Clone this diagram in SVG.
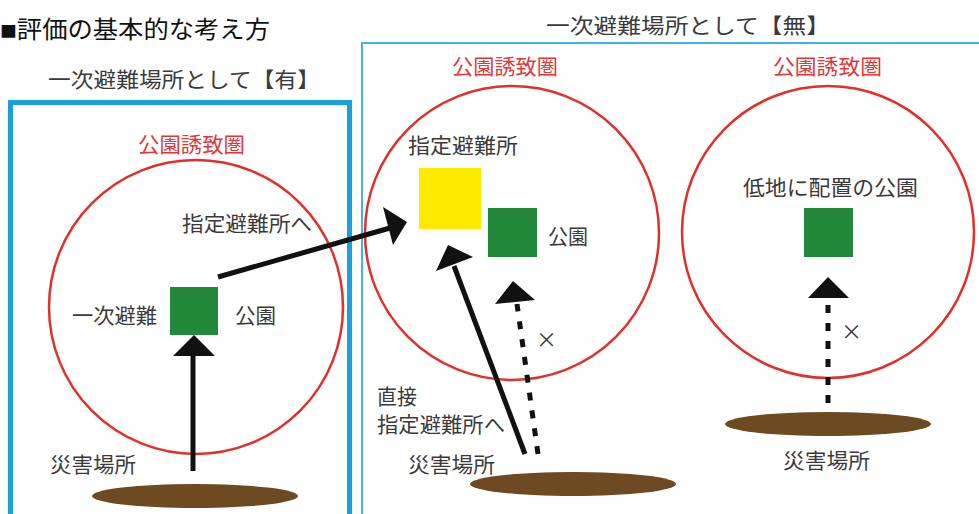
<svg xmlns="http://www.w3.org/2000/svg" width="979" height="514" viewBox="0 0 979 514">
<style>
text{font-family:"Noto Sans CJK JP","Noto Sans",sans-serif;fill:#3a3a3a;font-size:21px}
.title{fill:#111;font-size:24px}
.red{fill:#e0383a}
.zone{fill:none;stroke:#e0302c;stroke-width:2.5}
.park{fill:#23893a}
.ground{fill:#6e4a22}
.solid{stroke:#111;stroke-width:5;fill:none}
.dash{stroke:#111;stroke-width:5;fill:none;stroke-dasharray:8 10}
.head{fill:#111}
</style>
<rect width="979" height="514" fill="#fff"/>
<g id="title">
  <text class="title" x="0" y="38" textLength="270" lengthAdjust="spacingAndGlyphs"><tspan font-size="16" dy="-1">■</tspan><tspan dy="1">評価の基本的な考え方</tspan></text>
</g>

<g id="panel-yes">
  <rect x="10.5" y="102.5" width="339" height="420" fill="none" stroke="#1aa0dc" stroke-width="5"/>
  <text x="48" y="87" textLength="272" lengthAdjust="spacingAndGlyphs">一次避難場所として【有】</text>
</g>
<g id="panel-no">
  <rect x="362" y="43" width="630" height="490" fill="none" stroke="#40b4e6" stroke-width="2"/>
  <text x="546" y="33" textLength="284" lengthAdjust="spacingAndGlyphs">一次避難場所として【無】</text>
</g>

<g id="zone-left">
  <circle class="zone" cx="196" cy="307" r="147"/>
  <text class="red" x="138" y="152" textLength="107" lengthAdjust="spacingAndGlyphs">公園誘致圏</text>
</g>
<g id="park-left">
  <rect class="park" x="170" y="287" width="48" height="48"/>
  <text x="72" y="323" textLength="85" lengthAdjust="spacingAndGlyphs">一次避難</text>
  <text x="235" y="323" textLength="41" lengthAdjust="spacingAndGlyphs">公園</text>
</g>
<text x="182" y="231" textLength="130" lengthAdjust="spacingAndGlyphs">指定避難所へ</text>
<g id="disaster-left">
  <ellipse class="ground" cx="195" cy="496" rx="103" ry="12"/>
  <text x="50" y="472" textLength="86" lengthAdjust="spacingAndGlyphs">災害場所</text>
</g>

<g id="zone-mid">
  <circle class="zone" cx="512" cy="233" r="147"/>
  <text class="red" x="452" y="74" textLength="106" lengthAdjust="spacingAndGlyphs">公園誘致圏</text>
</g>
<g id="shelter-mid">
  <rect x="419" y="168" width="62" height="61" fill="#ffe900"/>
  <text x="408" y="153" textLength="110" lengthAdjust="spacingAndGlyphs">指定避難所</text>
</g>
<g id="park-mid">
  <rect class="park" x="488" y="208" width="49" height="49"/>
  <text x="548" y="244" textLength="40" lengthAdjust="spacingAndGlyphs">公園</text>
</g>
<g id="disaster-mid">
  <ellipse class="ground" cx="573" cy="484" rx="103" ry="12"/>
  <text x="408" y="472" textLength="87" lengthAdjust="spacingAndGlyphs">災害場所</text>
</g>
<text x="377" y="404" textLength="40" lengthAdjust="spacingAndGlyphs">直接</text>
<text x="377" y="432" textLength="128" lengthAdjust="spacingAndGlyphs">指定避難所へ</text>
<text x="536" y="347" font-size="18">×</text>

<g id="zone-right">
  <circle class="zone" cx="828" cy="232" r="146"/>
  <text class="red" x="773" y="74" textLength="109" lengthAdjust="spacingAndGlyphs">公園誘致圏</text>
</g>
<g id="park-right">
  <rect class="park" x="804" y="208" width="49" height="49"/>
  <text x="743" y="195" textLength="175" lengthAdjust="spacingAndGlyphs">低地に配置の公園</text>
</g>
<g id="disaster-right">
  <ellipse class="ground" cx="828" cy="424" rx="103" ry="12"/>
  <text x="783" y="468" textLength="87" lengthAdjust="spacingAndGlyphs">災害場所</text>
</g>
<text x="841" y="339" font-size="18">×</text>

<g id="connectors">
  <line class="solid" x1="193" y1="471" x2="193" y2="352"/>
  <polygon class="head" points="194,335 215,356 173,356"/>
  <line class="solid" x1="218" y1="277" x2="390" y2="228"/>
  <polygon class="head" points="407,222 383,207 393,245"/>
  <line class="solid" x1="525" y1="454" x2="454" y2="266"/>
  <polygon class="head" points="448,245 473,257 436,271"/>
  <line class="dash" x1="538" y1="454" x2="517" y2="304"/>
  <polygon class="head" points="513,281 535,300 495,304"/>
  <line class="dash" x1="828" y1="403" x2="828" y2="297"/>
  <polygon class="head" points="828,277 849,298 808,298"/>
</g>
</svg>
